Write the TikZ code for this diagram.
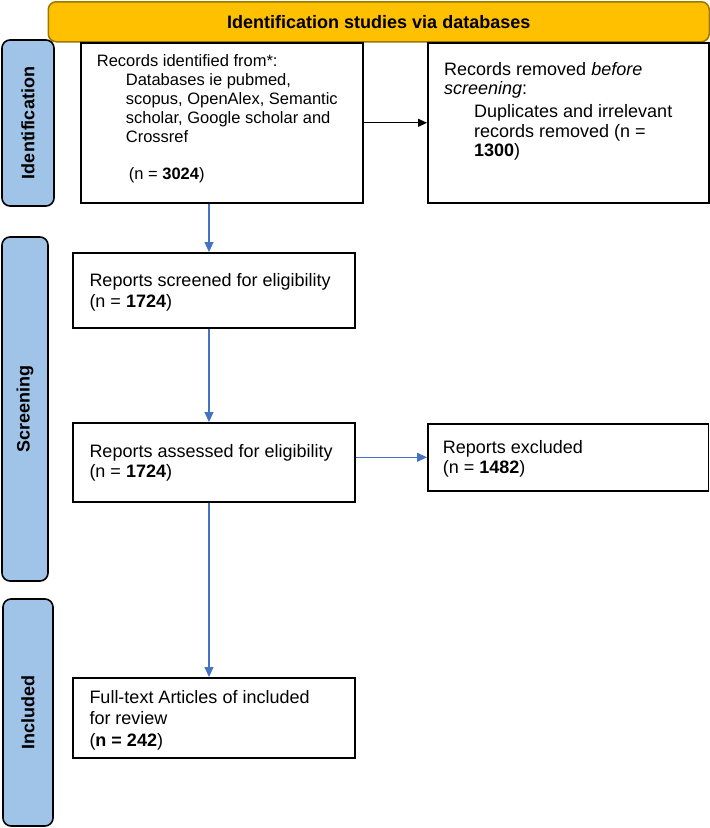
\documentclass[tikz,border=0pt]{standalone}
\usepackage{fontspec}
\setmainfont{Liberation Sans}
\usetikzlibrary{arrows.meta}
\definecolor{hdrfill}{HTML}{FFC000}
\definecolor{hdrline}{HTML}{9C7800}
\definecolor{lblfill}{HTML}{A0C4E8}
\definecolor{flowblue}{HTML}{4472C4}
\begin{document}
\begin{tikzpicture}[x=1pt,y=-1pt,
 box/.style={draw=black,line width=1.6pt,fill=white,anchor=north west,inner sep=0pt},
 phase/.style={draw=black,line width=1.6pt,fill=lblfill,rounded corners=8pt,inner sep=0pt,rotate=90,font=\fontsize{18}{20}\selectfont\bfseries},
 txtA/.style={anchor=north west,inner sep=0pt,align=left,font=\fontsize{16.5}{18.8}\selectfont},
 txtB/.style={anchor=north west,inner sep=0pt,align=left,font=\fontsize{18}{20.3}\selectfont},
 blueflow/.style={draw=flowblue,line width=1.2pt,-{Triangle[length=10pt,width=9pt]}},
 blackflow/.style={draw=black,line width=1.2pt,-{Triangle[length=9pt,width=8pt]}}]
\useasboundingbox (0,0) rectangle (710,828);

% header
\node[draw=hdrline,fill=hdrfill,line width=1.5pt,rounded corners=8pt,minimum width=661pt,minimum height=40pt,anchor=north west,inner sep=0pt,font=\fontsize{18}{20}\selectfont\bfseries] (hdr) at (47.5,1) {Identification studies via databases};

% phase labels
\node[phase,minimum width=166pt,minimum height=52pt] (pid) at (28,123) {Identification};
\node[phase,minimum width=344pt,minimum height=46pt] (psc) at (25,409) {Screening};
\node[phase,minimum width=227pt,minimum height=50pt] (pin) at (28,712.5) {Included};

% boxes
\node[box,minimum width=282pt,minimum height=160pt] (b1) at (80,42) {};
\node[box,minimum width=281pt,minimum height=160pt] (b2) at (427,42) {};
\node[box,minimum width=282pt,minimum height=75pt] (b3) at (72,252) {};
\node[box,minimum width=282pt,minimum height=79pt] (b4) at (72,422) {};
\node[box,minimum width=280.5pt,minimum height=67pt] (b5) at (427,423) {};
\node[box,minimum width=282pt,minimum height=80pt] (b6) at (72,677) {};

% texts
\node[txtA] (t1) at (96.7,54.7) {Records identified from*:\\
\hspace*{29pt}Databases ie pubmed,\\
\hspace*{29pt}scopus, OpenAlex, Semantic\\
\hspace*{29pt}scholar, Google scholar and\\
\hspace*{29pt}Crossref\\[18.8pt]
\hspace*{32pt}(n = \textbf{3024})};
\node[txtB,font=\fontsize{18}{19.5}\selectfont] (t2) at (444,61.9) {Records removed \textit{before}\\
\textit{screening}:\\[3.5pt]
\hspace*{30pt}Duplicates and irrelevant\\
\hspace*{30pt}records removed (n =\\
\hspace*{30pt}\textbf{1300})};
\node[txtB] (t3) at (89.3,273.6) {Reports screened for eligibility\\(n = \textbf{1724})};
\node[txtB] (t4) at (89.3,444.2) {Reports assessed for eligibility\\(n = \textbf{1724})};
\node[txtB] (t5) at (442.7,440.2) {Reports excluded\\(n = \textbf{1482})};
\node[txtB,font=\fontsize{18}{21.8}\selectfont] (t6) at (89.3,689.9) {Full-text Articles of included\\for review\\(\textbf{n = 242})};

% connectors
\coordinate (ax) at (209,230);
\draw[blackflow] (b1.east) -- (b2.west);
\draw[blueflow] (b1.south -| ax) -- (b3.north -| ax);
\draw[blueflow] (b3.south -| ax) -- (b4.north -| ax);
\draw[blueflow] (b4.south -| ax) -- (b6.north -| ax);
\draw[blueflow] (b4.east |- b5.west) -- (b5.west);
\end{tikzpicture}
\end{document}
